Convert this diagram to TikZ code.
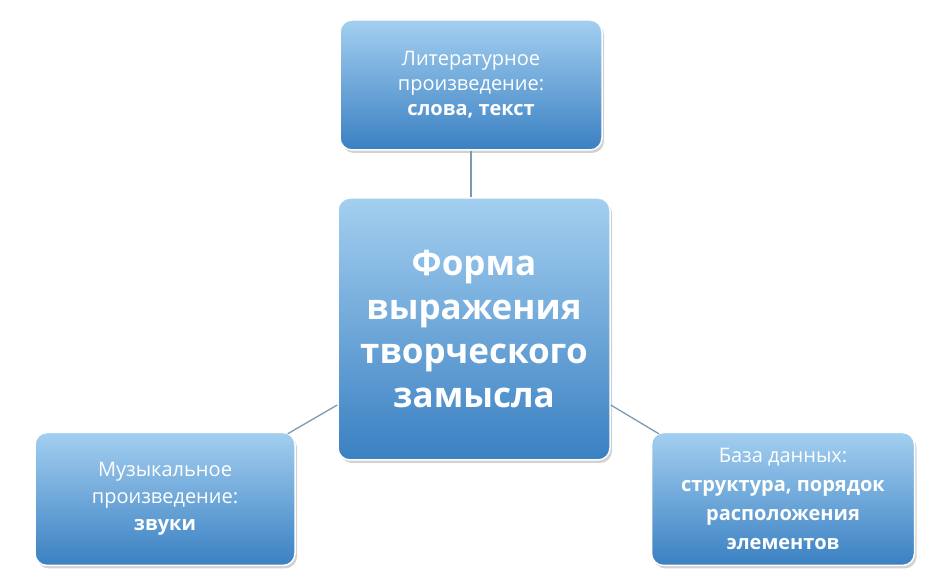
\documentclass[tikz,border=0pt]{standalone}
\usepackage{fontspec}
\setmainfont{Open Sans}
\usetikzlibrary{shadows}
\definecolor{btop}{HTML}{A3CFF0}
\definecolor{bbot}{HTML}{3A80C2}
\definecolor{lnc}{HTML}{7E9AB2}
\begin{document}
\begin{tikzpicture}[x=1pt,y=1pt,
  bx/.style={rounded corners=12pt, draw=white, line width=1.5pt, top color=btop, bottom color=bbot,
    drop shadow={shadow xshift=2pt,shadow yshift=-3pt,opacity=0.35}, text=white, align=center, inner sep=0pt},
  ln/.style={draw=lnc, line width=1.3pt}]
\useasboundingbox (0,0) rectangle (941,577);
\fill[white] (0,0) rectangle (941,577);
\node[bx, minimum width=262pt, minimum height=130pt, font=\fontsize{20}{25}\selectfont] (t) at (471,492) {Литературное\\произведение:\\\textbf{слова, текст}};
\node[bx, minimum width=272pt, minimum height=262pt, font=\fontsize{35}{44}\selectfont\bfseries] (c) at (474,248) {Форма\\выражения\\творческого\\замысла};
\node[bx, minimum width=260pt, minimum height=133pt, font=\fontsize{20}{27}\selectfont] (l) at (165,78) {Музыкальное\\произведение:\\\textbf{звуки}};
\node[bx, minimum width=263pt, minimum height=133pt, font=\fontsize{20}{29}\selectfont] (r) at (783,78) {База данных:\\\textbf{структура, порядок}\\\textbf{расположения}\\\textbf{элементов}};
\draw[ln] (t.south) -- (c.north -| t.south);
\draw[ln] (l.north east) ++(-8,-2) coordinate (la) -- (c.west |- 0,172);
\draw[ln] (c.east |- 0,172) -- ([xshift=8pt,yshift=-2pt]r.north west);
\end{tikzpicture}
\end{document}
